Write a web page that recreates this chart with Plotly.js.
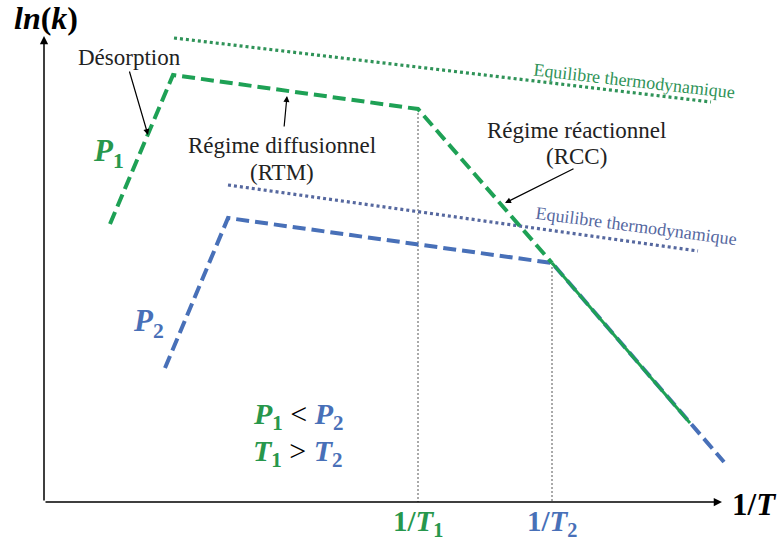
<!DOCTYPE html>
<html>
<head>
<meta charset="utf-8">
<script src="https://cdn.plot.ly/plotly-3.0.1.min.js"></script>
<style>
  html, body { margin: 0; padding: 0; background: #fff; }
  #chart { width: 778px; height: 540px; }
</style>
</head>
<body>
<div id="chart"></div>
<script>
/* Schematic: ln(k) vs 1/T for two pressures.
   Coordinates are in the drawing frame (x right, y down). */

// P1 (low pressure): desorption, diffusion (RTM), reaction (RCC)
const p1X = [110, 173, 418, 552];
const p1Y = [224, 75, 109, 263];
// shared reaction segment, P1 ends earlier
const sharedX = [552, 690];
const sharedY = [263, 423];
// P2 (high pressure)
const p2X = [165, 228, 552, 724];
const p2Y = [368, 218, 263, 462];
// thermodynamic equilibrium limits
const eq1X = [174, 711];
const eq1Y = [38, 102];
const eq2X = [228, 698];
const eq2Y = [185, 251];
// transition temperatures
const tX = [418, 552];
const tTop = [109, 263];
const tLabels = ['1/<i>T</i><sub>1</sub>', '1/<i>T</i><sub>2</sub>'];

const GREEN = '#1ea155';
const GREEN_TXT = '#27974c';
const BLUE = '#4870b8';
const GREEN_DOT = '#2f9358';
const BLUE_DOT = '#56689f';
const AXIS_Y = 502;
const AXIS_X = 44;

const serif = 'Liberation Serif';

function line(x, y, color, width, dash) {
  return { x, y, mode: 'lines', type: 'scatter', hoverinfo: 'skip', showlegend: false,
           line: { color, width, dash } };
}

const traces = [
  // guides down to the axis
  ...tX.map((x, i) => line([x, x], [tTop[i], AXIS_Y], '#555', 1, '2px,2px')),
  line(eq1X, eq1Y, GREEN_DOT, 3.2, '3px,3px'),
  line(eq2X, eq2Y, BLUE_DOT, 3.2, '3px,3px'),
  line(p2X, p2Y, BLUE, 4, '13px,6px'),
  line(p1X, p1Y, GREEN, 4, '13px,6px'),
  line(sharedX, sharedY, GREEN, 3, 'solid'),
];

function arrow(x0, y0, x1, y1, opts) {
  return Object.assign({
    x: x1, y: y1, ax: x0, ay: y0, xref: 'x', yref: 'y', axref: 'x', ayref: 'y',
    text: '', showarrow: true, arrowhead: 2, arrowsize: 1, arrowwidth: 1.2,
    arrowcolor: '#000', standoff: 0, startstandoff: 0,
  }, opts || {});
}

function label(x, y, text, size, color, extra) {
  return Object.assign({
    x, y, xref: 'x', yref: 'y', text, showarrow: false,
    font: { family: serif, size, color },
    xanchor: 'center', yanchor: 'middle',
  }, extra || {});
}

const g = s => `<span style="color:${GREEN_TXT}">${s}</span>`;
const b = s => `<span style="color:${BLUE}">${s}</span>`;

const annotations = [
  // axes
  arrow(AXIS_X, AXIS_Y, AXIS_X, 36, { arrowwidth: 1.5, arrowsize: 1.1 }),
  arrow(AXIS_X, AXIS_Y, 722, AXIS_Y, { arrowwidth: 1.5, arrowsize: 1.1 }),
  label(46, 18, '<b><i>ln</i>(<i>k</i>)</b>', 32, '#000'),
  label(754, 504, '<b>1/<i>T</i></b>', 31, '#000'),
  // regime labels
  label(129, 57, 'Désorption', 23, '#222'),
  arrow(129, 70, 148, 135),
  label(282, 145, 'Régime diffusionnel', 23, '#222'),
  label(282, 172, '(RTM)', 23, '#222'),
  arrow(284, 128, 287, 96),
  label(576, 130, 'Régime réactionnel', 23, '#222'),
  label(576, 156, '(RCC)', 23, '#222'),
  arrow(575, 168, 505, 203),
  label(634, 81, 'Equilibre thermodynamique', 18, GREEN_DOT, { textangle: 6.5 }),
  label(636, 226, 'Equilibre thermodynamique', 18, BLUE_DOT, { textangle: 7.5 }),
  // pressure labels
  label(108, 153, '<b><i>P</i><sub>1</sub></b>', 31, GREEN_TXT),
  label(148, 323, '<b><i>P</i><sub>2</sub></b>', 31, BLUE),
  label(298, 416, g('<b><i>P</i><sub>1</sub></b>') + ' &lt; ' + b('<b><i>P</i><sub>2</sub></b>'), 30, '#000'),
  label(298, 453, g('<b><i>T</i><sub>1</sub></b>') + ' &gt; ' + b('<b><i>T</i><sub>2</sub></b>'), 30, '#000'),
  // temperature ticks
  ...tX.map((x, i) => label(x, 523, '<b>' + tLabels[i] + '</b>', 29, i === 0 ? GREEN_TXT : BLUE)),
];

const layout = {
  width: 778, height: 540,
  margin: { l: 0, r: 0, t: 0, b: 0 },
  paper_bgcolor: '#fff', plot_bgcolor: '#fff',
  xaxis: { range: [0, 778], visible: false, fixedrange: true },
  yaxis: { range: [540, 0], visible: false, fixedrange: true },
  showlegend: false,
  annotations,
};

Plotly.newPlot('chart', traces, layout, { staticPlot: true, displayModeBar: false });
</script>
</body>
</html>
